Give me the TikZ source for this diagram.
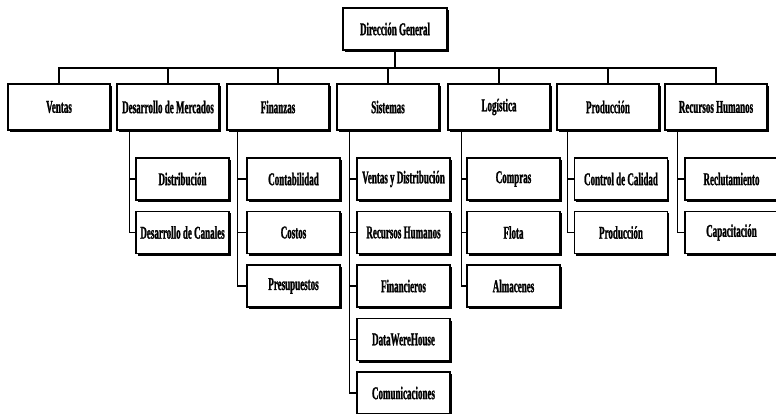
\documentclass[tikz,border=0pt]{standalone}
\usepackage{fontspec}
\usetikzlibrary{shadows}
\newfontfamily\orgfont[FakeStretch=0.5,FakeBold=1.2]{Liberation Serif}
\begin{document}
\begin{tikzpicture}[x=1pt,y=-1pt,
  box/.style={draw=black, line width=1.1pt, fill=white, inner sep=0pt,
    font=\orgfont\bfseries\fontsize{18}{20}\selectfont,
    drop shadow={shadow xshift=1.6pt, shadow yshift=-2pt, opacity=1, fill=black}},
  head/.style={box, minimum width=104pt, minimum height=42pt},
  dept/.style={box, minimum width=102pt, minimum height=46pt},
  unit/.style={box, minimum width=93pt, minimum height=42pt},
  link/.style={draw=black, line width=1.1pt}]
\useasboundingbox (0,0) rectangle (776,414);

% top of the chart
\node[head] (dg) at (395,29) {Dirección General};

% departments
\node[dept] (ventas) at (59,107)  {Ventas};
\node[dept] (merc)   at (168,107) {Desarrollo de Mercados};
\node[dept] (fin)    at (278,107) {Finanzas};
\node[dept] (sis)    at (388,107) {Sistemas};
\node[dept] (log)    at (499,107) {Logística};
\node[dept] (prod)   at (608,107) {Producción};
\node[dept] (rh)     at (716,107) {Recursos Humanos};

% bus from the head to every department
\coordinate (bus) at (395,68);
\draw[link] (dg.south) -- (bus);
\foreach \d in {ventas,merc,fin,sis,log,prod,rh}
  \draw[link] (\d.north) |- (bus);

% units of each department
\node[unit] (dist)  at (182.5,179)   {Distribución};
\node[unit] (canal) at (182.5,232.5) {Desarrollo de Canales};

\node[unit] (cont)  at (293.5,179)   {Contabilidad};
\node[unit] (cost)  at (293.5,232.5) {Costos};
\node[unit] (pres)  at (293.5,286)   {Presupuestos};

\node[unit] (svd)   at (403.5,179)   {Ventas y Distribución};
\node[unit] (srh)   at (403.5,232.5) {Recursos Humanos};
\node[unit] (sfin)  at (403.5,286)   {Financieros};
\node[unit] (dwh)   at (403.5,339.5) {DataWereHouse};
\node[unit] (com)   at (403.5,393)   {Comunicaciones};

\node[unit] (compr) at (513.5,179)   {Compras};
\node[unit] (flota) at (513.5,232.5) {Flota};
\node[unit] (alm)   at (513.5,286)   {Almacenes};

\node[unit] (ccal)  at (621,179)     {Control de Calidad};
\node[unit] (uprod) at (621,232.5)   {Producción};

\node[unit] (recl)  at (731.5,179)   {Reclutamiento};
\node[unit] (capa)  at (731.5,232.5) {Capacitación};

% department-to-unit connectors
\foreach \u in {dist,canal}
  \draw[link] ([xshift=13pt]merc.south west) |- (\u.west);
\foreach \u in {cont,cost,pres}
  \draw[link] ([xshift=11pt]fin.south west) |- (\u.west);
\foreach \u in {svd,srh,sfin,dwh,com}
  \draw[link] ([xshift=13pt]sis.south west) |- (\u.west);
\foreach \u in {compr,flota,alm}
  \draw[link] ([xshift=14pt]log.south west) |- (\u.west);
\foreach \u in {ccal,uprod}
  \draw[link] ([xshift=11pt]prod.south west) |- (\u.west);
\foreach \u in {recl,capa}
  \draw[link] ([xshift=13pt]rh.south west) |- (\u.west);
\end{tikzpicture}
\end{document}
